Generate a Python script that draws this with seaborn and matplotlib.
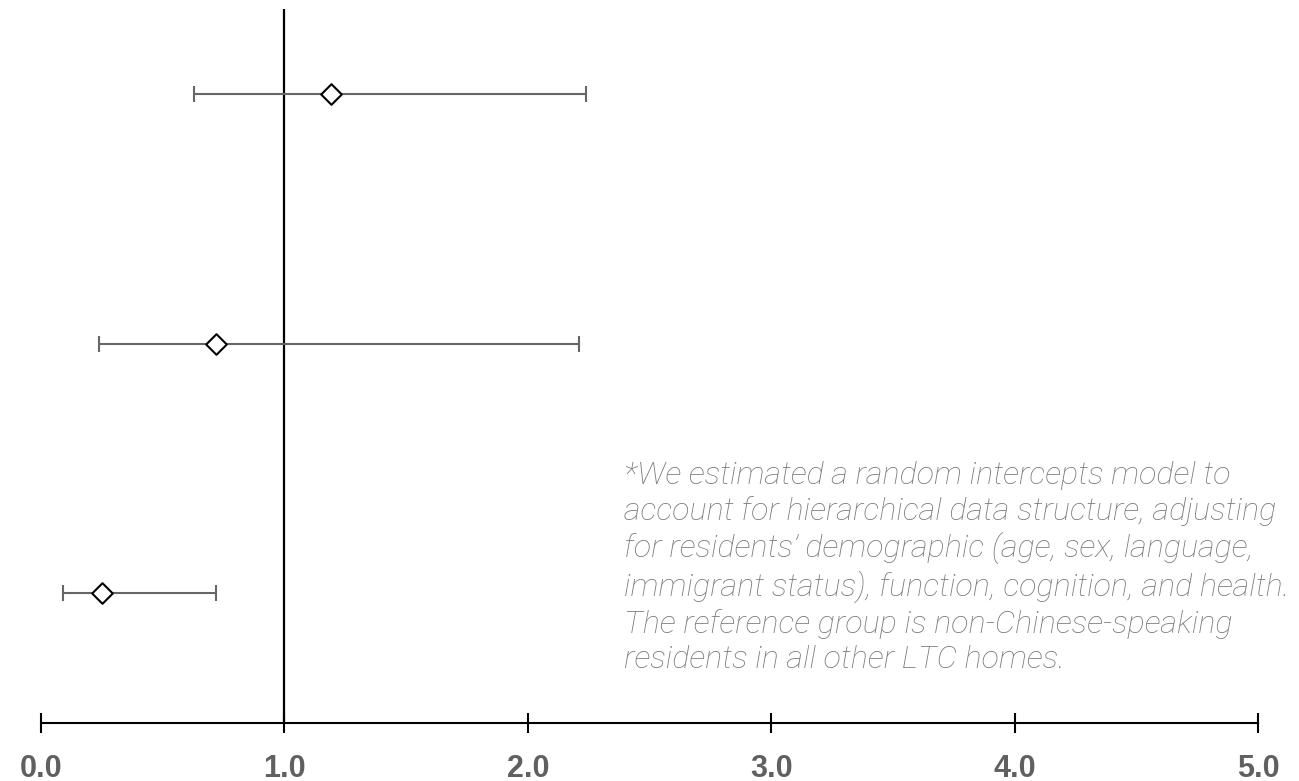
import matplotlib
matplotlib.use("Agg")
import matplotlib.pyplot as plt
import seaborn as sns
import pandas as pd

# Forest plot values (odds ratio with 95% CI), top to bottom
rows = ["row1", "row2", "row3"]
estimate = [1.19, 0.72, 0.25]
ci_low = [0.63, 0.24, 0.09]
ci_high = [2.24, 2.21, 0.72]
xticks = [0.0, 1.0, 2.0, 3.0, 4.0, 5.0]
note = ("*We estimated a random intercepts model to\n"
        "account for hierarchical data structure, adjusting\n"
        "for residents\u2019 demographic (age, sex, language,\n"
        "immigrant status), function, cognition, and health.\n"
        "The reference group is non-Chinese-speaking\n"
        "residents in all other LTC homes.")

df = pd.DataFrame({"row": rows, "pos": range(len(rows)), "est": estimate,
                   "lo": ci_low, "hi": ci_high})

sns.set_style("white")
fig = plt.figure(figsize=(12.99, 7.81), dpi=100)
ax = fig.add_axes([0, 0.0743, 1, 0.9142])

# confidence intervals
ax.errorbar(df["est"], df["pos"],
            xerr=[df["est"] - df["lo"], df["hi"] - df["est"]],
            fmt="none", ecolor="#666666", elinewidth=1.5, capsize=6,
            capthick=1.5, zorder=2)
# reference line at 1
ax.axvline(1.0, color="black", lw=1.6, zorder=1)
# point estimates
sns.scatterplot(data=df, x="est", y="pos", marker="D", s=110,
                facecolor="white", edgecolor="black", linewidth=1.5,
                zorder=3, ax=ax)

ax.set_xlim(-0.168, 5.168)
ax.set_ylim(2.52, -0.34)
ax.set_xlabel("")
ax.set_ylabel("")
ax.set_yticks([])
ax.set_xticks(xticks)
ax.set_xticklabels([f"{t:.1f}" for t in xticks], fontsize=22,
                   fontweight="bold", color="#606060",
                   family="Liberation Sans")
for s in ["top", "left", "right"]:
    ax.spines[s].set_visible(False)
ax.spines["bottom"].set_bounds(0, 5)
ax.spines["bottom"].set_linewidth(1.5)
ax.spines["bottom"].set_color("black")
ax.tick_params(axis="x", direction="inout", length=14, width=1.5,
               colors="black", pad=15, bottom=True)
for lbl in ax.get_xticklabels():
    lbl.set_color("#606060")

fig.text(624 / 1299, (781 - 461) / 781, note, ha="left", va="top",
         fontsize=23.2, style="italic", fontweight="light", color="#7a7a7a",
         family="Roboto", linespacing=1.25)

fig.savefig("out.png", dpi=100)
